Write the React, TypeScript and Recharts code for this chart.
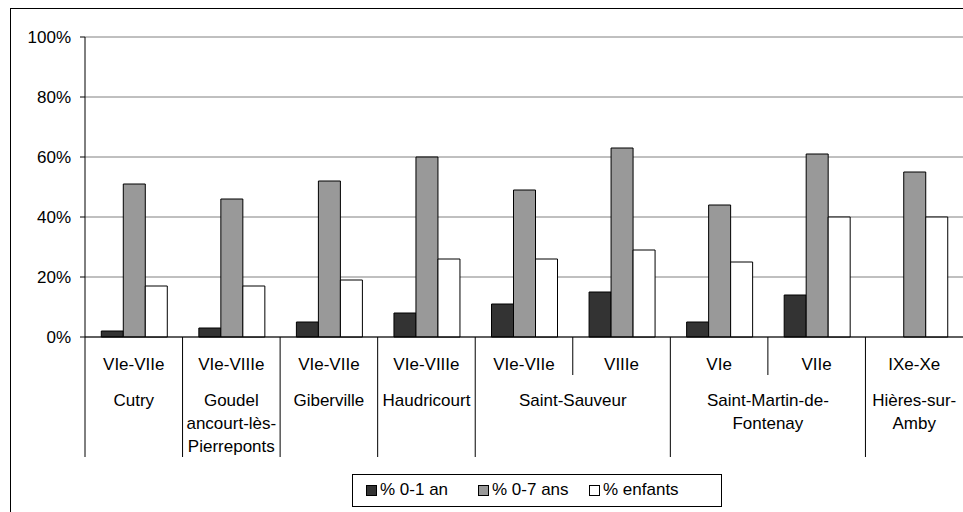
import React from 'react';
import { BarChart, Bar, XAxis, YAxis, CartesianGrid } from 'recharts';

// ---- data ----
const periods = ['VIe-VIIe', 'VIe-VIIIe', 'VIe-VIIe', 'VIe-VIIIe', 'VIe-VIIe', 'VIIIe', 'VIe', 'VIIe', 'IXe-Xe'];
const siteLines = [
  ['Cutry'],
  ['Goudel', 'ancourt-lès-', 'Pierreponts'],
  ['Giberville'],
  ['Haudricourt'],
  ['Saint-Sauveur'],
  ['Saint-Martin-de-', 'Fontenay'],
  ['Hières-sur-', 'Amby'],
];
const siteSpans = [1, 1, 1, 1, 2, 2, 1];
const pct01 = [2, 3, 5, 8, 11, 15, 5, 14, null];
const pct07 = [51, 46, 52, 60, 49, 63, 44, 61, 55];
const pctEnfants = [17, 17, 19, 26, 26, 29, 25, 40, 40];
const yTicks = [0, 20, 40, 60, 80, 100];
const seriesNames = ['% 0-1 an', '% 0-7 ans', '% enfants'];
const seriesColors = ['#333333', '#999999', '#ffffff'];

// ---- layout ----
const W = 963;
const H = 512;
const PLOT_LEFT = 85;
const PLOT_TOP = 37;
const PLOT_BOTTOM = 337;
const PLOT_RIGHT = 963;
const BAND = (PLOT_RIGHT - PLOT_LEFT) / periods.length;
const FONT = '"Liberation Sans", Arial, sans-serif';
const FS = 17;

const catGroup: number[] = [];
siteSpans.forEach((s, g) => {
  for (let k = 0; k < s; k++) catGroup.push(g);
});

const data = periods.map((p, i) => ({
  idx: String(i),
  a: pct01[i],
  b: pct07[i],
  c: pctEnfants[i],
}));

const XTick = (props: any) => {
  const { x, y, payload } = props;
  const i = Number(payload.value);
  const left = x - BAND / 2;
  const g = catGroup[i];
  const isStart = i === 0 || catGroup[i - 1] !== g;
  const groupCenter = left + (siteSpans[g] * BAND) / 2;
  return (
    <g>
      <line x1={left} x2={left} y1={y} y2={y + (isStart ? 120 : 38)} stroke="#000" strokeWidth={1} />
      <text x={x} y={y + 33} textAnchor="middle" fontSize={FS} fontFamily={FONT} fill="#000">
        {periods[i]}
      </text>
      {isStart &&
        siteLines[g].map((ln, k) => (
          <text key={k} x={groupCenter} y={y + 69 + k * 23} textAnchor="middle" fontSize={FS} fontFamily={FONT} fill="#000">
            {ln}
          </text>
        ))}
    </g>
  );
};

export default function App() {
  return (
    <div style={{ position: 'absolute', left: 0, top: 0, width: W, height: H, overflow: 'hidden', background: '#fff' }}>
      <div
        style={{
          position: 'absolute',
          left: 10,
          top: 8,
          width: W,
          height: H,
          border: '1px solid #000',
          boxSizing: 'border-box',
        }}
      />
      <div style={{ position: 'absolute', left: 0, top: 0 }}>
        <BarChart
          width={W}
          height={H}
          data={data}
          margin={{ top: PLOT_TOP, right: W - PLOT_RIGHT, left: 0, bottom: 0 }}
          barGap={0}
          barCategoryGap="16.7%"
        >
          <CartesianGrid horizontal vertical={false} stroke="#808080" strokeWidth={1} />
          <XAxis
            dataKey="idx"
            height={H - PLOT_BOTTOM}
            interval={0}
            tickLine={false}
            tickSize={0}
            tickMargin={0}
            axisLine={{ stroke: '#000' }}
            tick={<XTick />}
          />
          <YAxis
            width={PLOT_LEFT}
            domain={[0, 100]}
            ticks={yTicks}
            tickFormatter={(v: number) => `${v}%`}
            tickSize={5}
            tickMargin={9}
            tickLine={{ stroke: '#000' }}
            axisLine={{ stroke: '#000' }}
            tick={{ fill: '#000', fontSize: FS, fontFamily: FONT }}
            interval={0}
          />
          <Bar dataKey="a" fill={seriesColors[0]} stroke="#000" strokeWidth={1} isAnimationActive={false} />
          <Bar dataKey="b" fill={seriesColors[1]} stroke="#000" strokeWidth={1} isAnimationActive={false} />
          <Bar dataKey="c" fill={seriesColors[2]} stroke="#000" strokeWidth={1} isAnimationActive={false} />
        </BarChart>
      </div>
      <div
        style={{
          position: 'absolute',
          left: 352,
          top: 474,
          width: 370,
          height: 33,
          border: '1px solid #000',
          boxSizing: 'border-box',
          fontFamily: FONT,
          fontSize: FS,
          color: '#000',
        }}
      >
        {seriesNames.map((n, k) => (
          <div
            key={k}
            style={{ position: 'absolute', left: [13, 125, 236][k], top: 5, display: 'flex', alignItems: 'center', whiteSpace: 'nowrap' }}
          >
            <span
              style={{
                display: 'inline-block',
                width: 9,
                height: 9,
                background: seriesColors[k],
                border: '1px solid #000',
                marginRight: 3,
              }}
            />
            <span>{n}</span>
          </div>
        ))}
      </div>
    </div>
  );
}
